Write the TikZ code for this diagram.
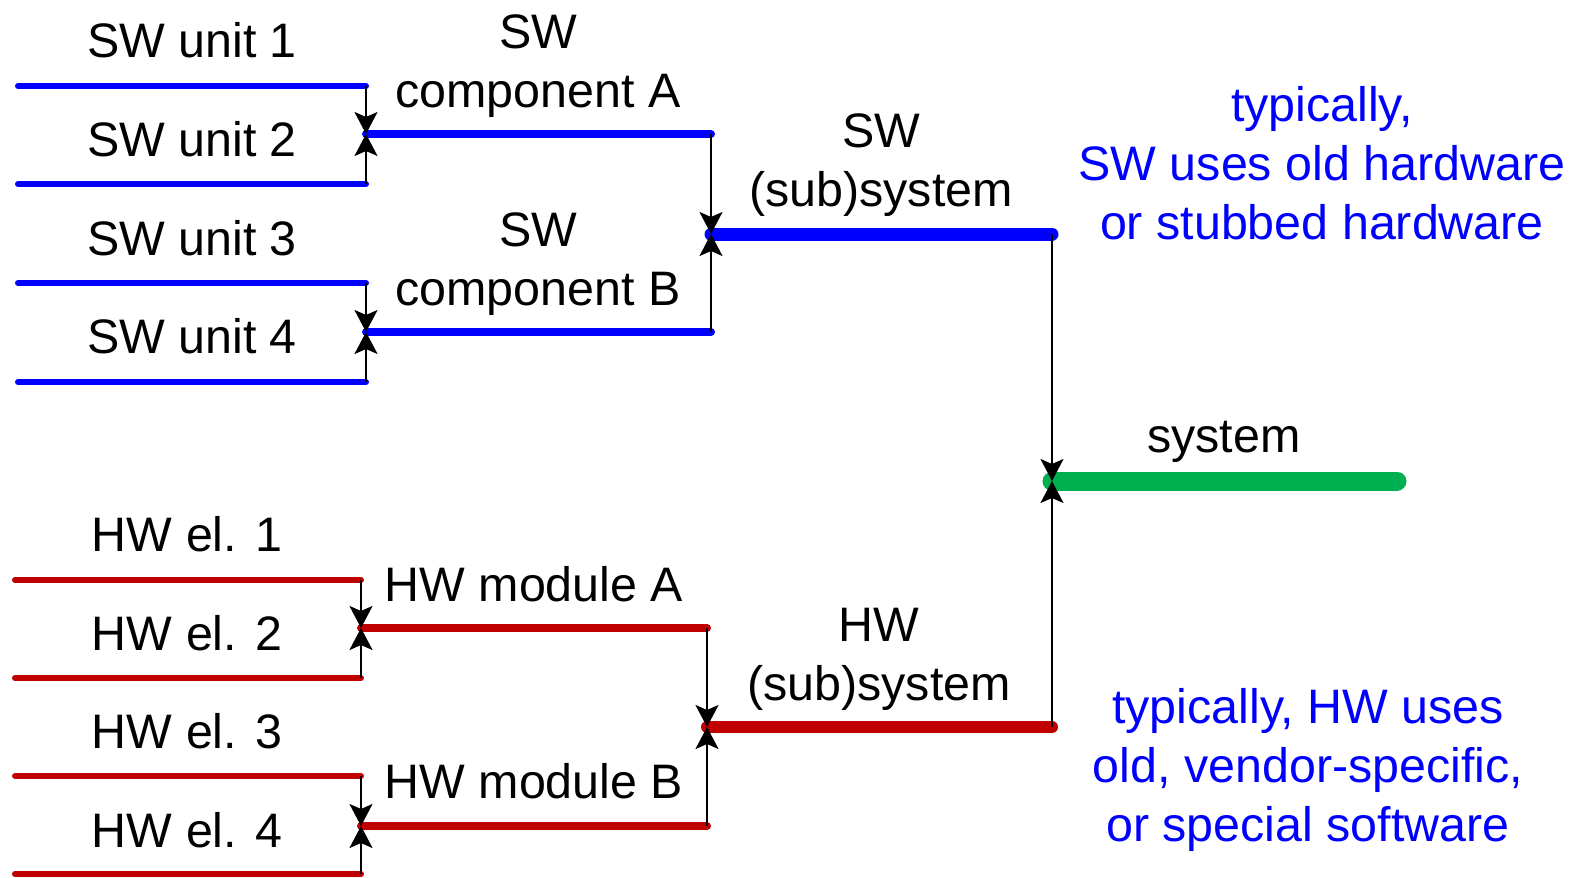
\documentclass[tikz,border=0pt]{standalone}
\usepackage{fontspec}
\setmainfont{Liberation Sans}
\usetikzlibrary{arrows.meta}

\definecolor{hwred}{RGB}{192,0,0}
\definecolor{sysgreen}{RGB}{0,176,80}

\tikzset{
  lbl/.style={font=\fontsize{24.2}{29.6}\selectfont, align=center, inner sep=0pt},
  note/.style={lbl, text=blue},
  bar/.style={line cap=round},
  feed/.style={-{Stealth[length=11pt,width=11.5pt,inset=2.5pt]}, line width=1pt},
}

\begin{document}
\begin{tikzpicture}[x=0.5pt,y=-0.5pt]
      \useasboundingbox (0,0) rectangle (1581,878);

      % SW side
      \coordinate (u1w) at (18,86);   \coordinate (u1e) at (366,86);
      \coordinate (u2w) at (18,184);  \coordinate (u2e) at (366,184);
      \coordinate (u3w) at (18,283);  \coordinate (u3e) at (366,283);
      \coordinate (u4w) at (18,382);  \coordinate (u4e) at (366,382);
      \coordinate (cAw) at (366,134); \coordinate (cAe) at (711,134);
      \coordinate (cBw) at (366,332); \coordinate (cBe) at (711,332);
      \coordinate (ssw) at (711,234); \coordinate (sse) at (1052,234);

      % system
      \coordinate (sysw) at (1052,481); \coordinate (syse) at (1397,481);

      % HW side
      \coordinate (e1w) at (15,580);  \coordinate (e1e) at (361,580);
      \coordinate (e2w) at (15,678);  \coordinate (e2e) at (361,678);
      \coordinate (e3w) at (15,776);  \coordinate (e3e) at (361,776);
      \coordinate (e4w) at (15,874);  \coordinate (e4e) at (361,874);
      \coordinate (mAw) at (361,628); \coordinate (mAe) at (707,628);
      \coordinate (mBw) at (361,826); \coordinate (mBe) at (707,826);
      \coordinate (hsw) at (707,727); \coordinate (hse) at (1052,727);

      \draw[bar,blue,line width=3pt] (u1w) -- (u1e);
      \draw[bar,blue,line width=3pt] (u2w) -- (u2e);
      \draw[bar,blue,line width=3pt] (u3w) -- (u3e);
      \draw[bar,blue,line width=3pt] (u4w) -- (u4e);
      \draw[bar,blue,line width=4pt] (cAw) -- (cAe);
      \draw[bar,blue,line width=4pt] (cBw) -- (cBe);
      \draw[bar,blue,line width=6.5pt] (ssw) -- (sse);

      \draw[bar,sysgreen,line width=9.5pt] (sysw) -- (syse);

      \draw[bar,hwred,line width=3pt] (e1w) -- (e1e);
      \draw[bar,hwred,line width=3pt] (e2w) -- (e2e);
      \draw[bar,hwred,line width=3pt] (e3w) -- (e3e);
      \draw[bar,hwred,line width=3pt] (e4w) -- (e4e);
      \draw[bar,hwred,line width=4pt] (mAw) -- (mAe);
      \draw[bar,hwred,line width=4pt] (mBw) -- (mBe);
      \draw[bar,hwred,line width=6pt] (hsw) -- (hse);

      \draw[feed] (u1e) -- (cAw);
      \draw[feed] (u2e) -- (cAw);
      \draw[feed] (u3e) -- (cBw);
      \draw[feed] (u4e) -- (cBw);
      \draw[feed] (cAe) -- (ssw);
      \draw[feed] (cBe) -- (ssw);
      \draw[feed] (e1e) -- (mAw);
      \draw[feed] (e2e) -- (mAw);
      \draw[feed] (e3e) -- (mBw);
      \draw[feed] (e4e) -- (mBw);
      \draw[feed] (mAe) -- (hsw);
      \draw[feed] (mBe) -- (hsw);
      \draw[feed] (sse) -- (sysw);
      \draw[feed] (hse) -- (sysw);

      \node[lbl] (unit1) at (192,40) {SW unit 1};
      \node[lbl] (unit2) at (192,139) {SW unit 2};
      \node[lbl] (unit3) at (192,238) {SW unit 3};
      \node[lbl] (unit4) at (192,336) {SW unit 4};
      \node[lbl] (compA) at (538,66) {SW\\component A};
      \node[lbl] (compB) at (538,264) {SW\\component B};
      \node[lbl] (swsub) at (881,165) {SW\\(sub)system};
      \node[lbl] (sys) at (1224,442) {system};
      \node[lbl] (el1) at (187,534) {HW el. 1};
      \node[lbl] (el2) at (187,633) {HW el. 2};
      \node[lbl] (el3) at (187,731) {HW el. 3};
      \node[lbl] (el4) at (187,830) {HW el. 4};
      \node[lbl] (modA) at (534,584) {HW module A};
      \node[lbl] (modB) at (534,781) {HW module B};
      \node[lbl] (hwsub) at (879,659) {HW\\(sub)system};
      \node[note] (swnote) at (1322,163) {typically,\\SW uses old hardware\\or stubbed hardware};
      \node[note] (hwnote) at (1308,770) {typically, HW uses\\old, vendor-specific,\\or special software};
\end{tikzpicture}
\end{document}
